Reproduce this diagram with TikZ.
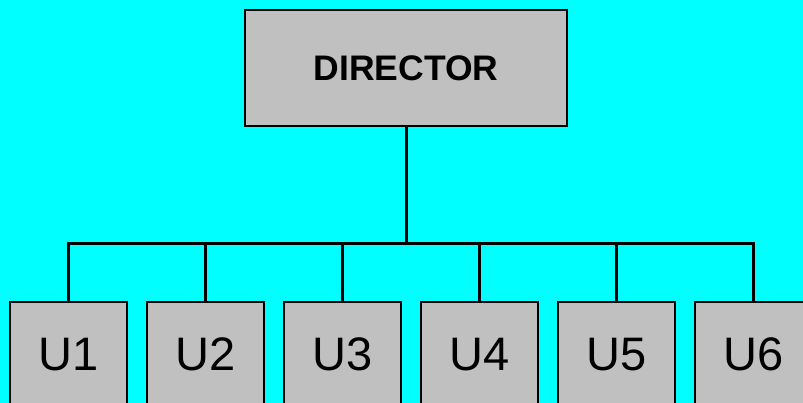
\documentclass[tikz,border=0pt]{standalone}
\usepackage{fontspec}
\setmainfont{Liberation Sans}
\definecolor{bgcyan}{HTML}{00FFFF}
\definecolor{boxgray}{HTML}{C0C0C0}
\begin{document}
\begin{tikzpicture}[x=1pt,y=-1pt,
    orgbox/.style={draw=black, fill=boxgray, line width=2pt, inner sep=0pt},
    unitbox/.style={orgbox, minimum width=117.5pt, minimum height=105pt,
      font=\fontsize{47}{50}\selectfont},
    link/.style={draw=black, line width=3pt}]
  \useasboundingbox (0,0) rectangle (803,403);
  \clip (0,0) rectangle (803,403);
  \fill[bgcyan] (0,0) rectangle (803,403);

  % head of the chart
  \node[orgbox, minimum width=322pt, minimum height=116.5pt,
        font=\bfseries\fontsize{35.5}{38}\selectfont] (dir) at (406,68) {DIRECTOR};

  % units
  \foreach \i in {1,...,6} {
    \node[unitbox] (u\i) at ({68.5+137*(\i-1)},354.5) {U\i};
  }

  % horizontal distribution bar
  \coordinate (barL) at (u1.center |- 0,243.5);
  \coordinate (barR) at (u6.center |- 0,243.5);
  \coordinate (barM) at (dir.south |- 0,243.5);
  \draw[link, line cap=rect] (barL) -- (barR);
  \draw[link] (dir.south) -- (barM);
  \foreach \i in {1,...,6} {
    \draw[link] (u\i.north |- barL) -- (u\i.north);
  }
\end{tikzpicture}
\end{document}
